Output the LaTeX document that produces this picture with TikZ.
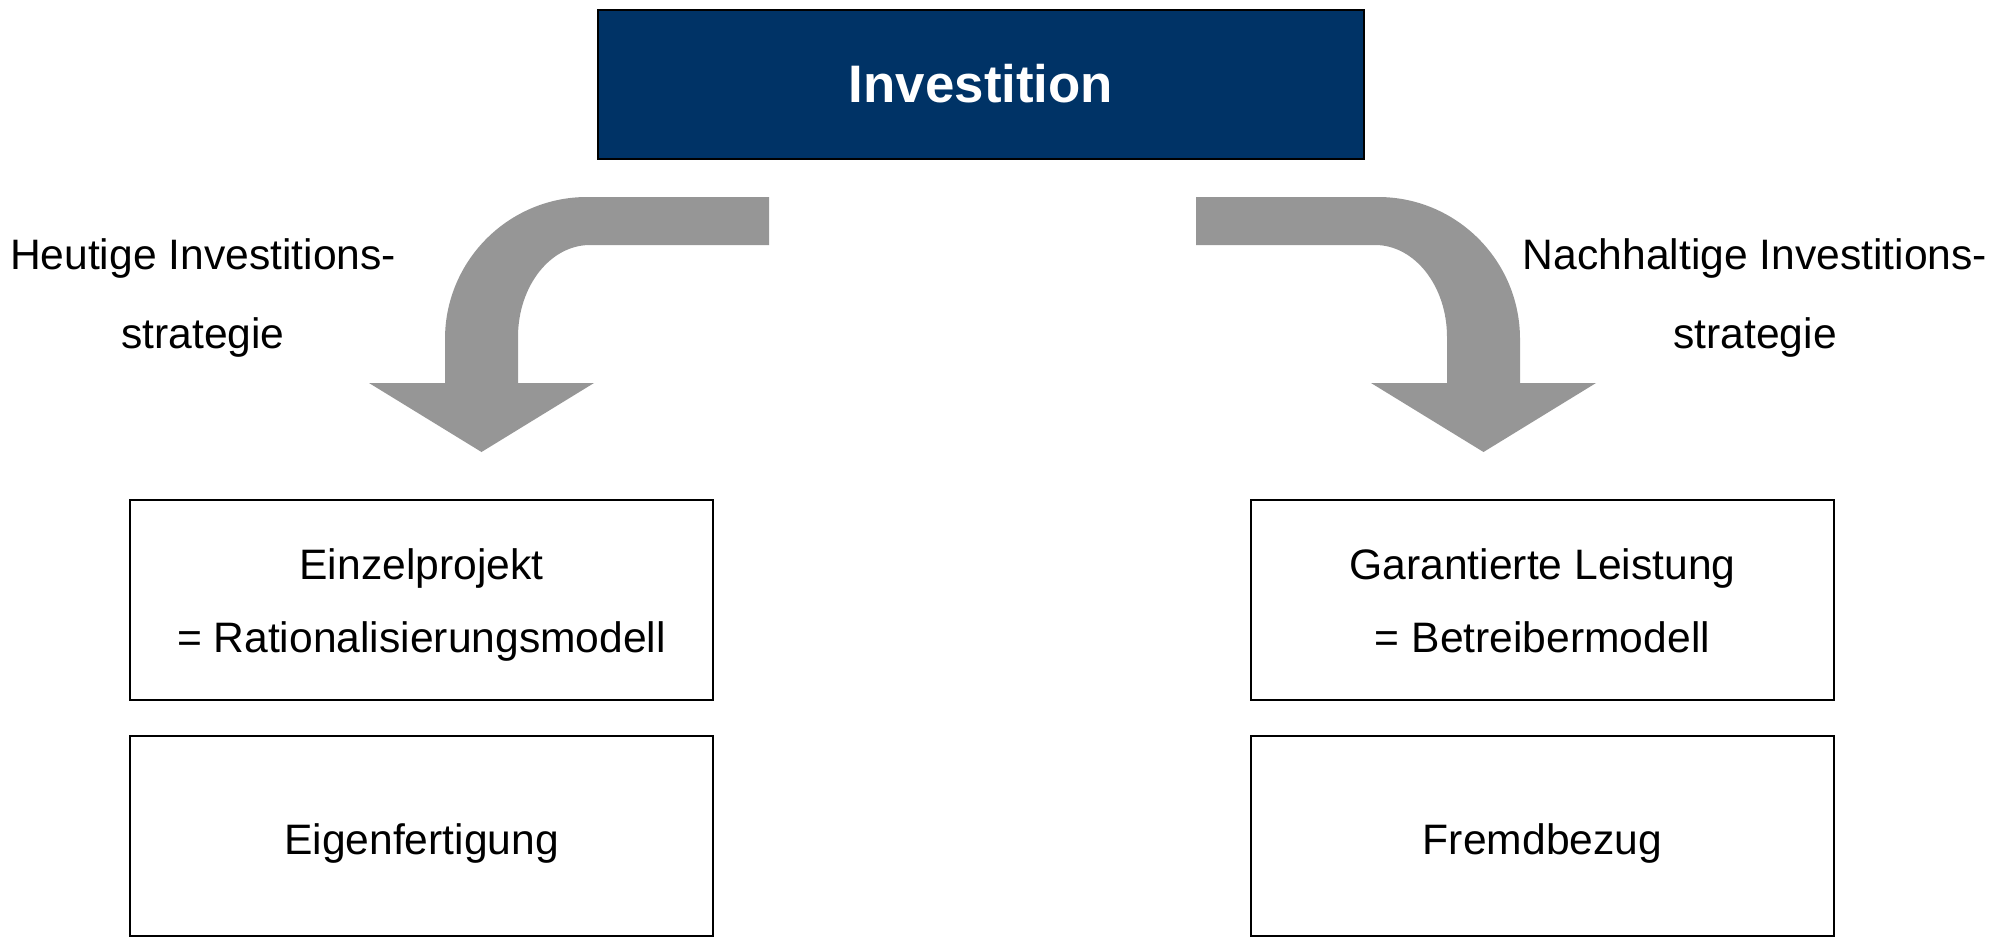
\documentclass[tikz,border=0pt]{standalone}
\usepackage{fontspec}
\setmainfont{Liberation Sans}
\definecolor{navy}{RGB}{0,51,102}
\definecolor{arrowgray}{RGB}{150,150,150}
\begin{document}
\begin{tikzpicture}[x=0.5pt,y=-0.5pt,
  headbox/.style={draw=black,line width=1pt,fill=navy,text=white,inner sep=0pt,
    minimum width=383pt,minimum height=74.5pt,
    font=\fontsize{26.4}{30}\selectfont\bfseries},
  optbox/.style={draw=black,line width=1pt,fill=white,inner sep=0pt,align=center,
    minimum width=291.5pt,minimum height=100pt,text depth=4.5pt,
    font=\fontsize{21.3}{36.5}\selectfont},
  oneline/.style={optbox,text height=23pt},
  twoline/.style={optbox,text height=57pt},
  sidelabel/.style={inner sep=0pt,align=center,font=\fontsize{21.3}{39.5}\selectfont},
  bentarrow/.style={fill=arrowgray}]
\useasboundingbox (0,0) rectangle (1997,937);

% top node
\node[headbox] (inv) at (981,84) {Investition};

% left branch arrow
\coordinate (lstart) at (769,221);
\fill[bentarrow] (769,197) -- (587,197)
  .. controls (508.6,197) and (445,260.6) .. (445,339)
  -- (445,383) -- (369,383) -- (481.5,452) -- (594,383) -- (518,383) -- (518,337)
  .. controls (518,286.2) and (550.2,245) .. (590,245)
  -- (769,245) -- cycle;

% right branch arrow
\coordinate (rstart) at (1196,221);
\fill[bentarrow] (1196,197) -- (1378,197)
  .. controls (1456.4,197) and (1520,260.6) .. (1520,339)
  -- (1520,383) -- (1596,383) -- (1483.5,452) -- (1371,383) -- (1447,383) -- (1447,337)
  .. controls (1447,286.2) and (1414.8,245) .. (1375,245)
  -- (1196,245) -- cycle;

% branch labels
\node[sidelabel] (lleft) at (203,298) {Heutige Investitions-\\strategie};
\node[sidelabel] (lright) at (1755,298) {Nachhaltige Investitions-\\strategie};

% left column
\node[twoline] (einzel) at (421.5,600) {Einzelprojekt\\= Rationalisierungsmodell};
\node[oneline] (eigen) at (421.5,835.5) {Eigenfertigung};

% right column
\node[twoline] (garant) at (1542.5,600) {Garantierte Leistung\\= Betreibermodell};
\node[oneline] (fremd) at (1542.5,835.5) {Fremdbezug};
\end{tikzpicture}
\end{document}
